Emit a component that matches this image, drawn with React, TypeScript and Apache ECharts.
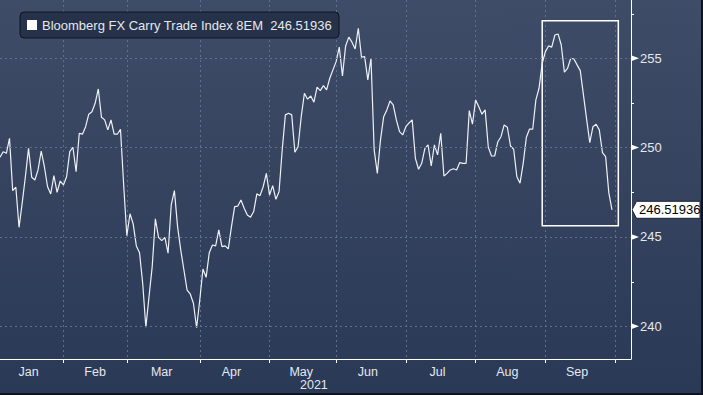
import React, { useEffect, useRef } from 'react';
import * as echarts from 'echarts';

const seriesName = 'Bloomberg FX Carry Trade Index 8EM';
const lastValue = 246.51936;

// Daily closes, trading days from 2021-01-04 to 2021-09-30
const values = [
  249.46, 249.77, 249.68, 250.52, 247.59, 247.78, 245.54, 246.89, 248.37, 249.96,
  248.34, 248.19, 248.75, 249.81, 248.93, 247.81, 247.41, 248.43, 247.50, 248.13,
  247.91, 248.37, 249.77, 250.02, 248.65, 250.80, 250.75, 251.17, 251.87, 252.01,
  252.48, 253.28, 251.70, 251.55, 250.99, 251.55, 250.75, 250.75, 251.03, 247.91,
  245.07, 246.30, 245.73, 244.50, 244.12, 242.41, 239.95, 241.66, 243.34, 246.01,
  244.98, 244.79, 244.98, 244.09, 246.79, 247.59, 245.58, 244.27, 243.15, 242.03,
  241.81, 241.29, 239.92, 241.47, 243.21, 242.74, 244.12, 244.55, 244.50, 245.39,
  244.46, 244.50, 244.33, 245.58, 246.70, 246.73, 247.07, 246.61, 246.23, 246.10,
  246.42, 247.41, 247.31, 247.81, 248.56, 247.35, 247.87, 247.11, 247.53, 249.87,
  251.83, 251.92, 251.83, 249.74, 250.05, 251.73, 253.04, 252.71, 252.89, 252.54,
  253.38, 253.19, 253.47, 253.23, 253.88, 254.35, 254.81, 255.62, 254.01, 255.69,
  256.18, 255.90, 255.52, 256.68, 255.06, 255.09, 253.79, 255.00, 249.87, 248.56,
  250.43, 251.73, 252.11, 252.61, 252.39, 251.55, 250.89, 250.71, 251.17, 251.38,
  251.55, 249.40, 248.79, 249.12, 249.96, 250.15, 248.97, 250.15, 249.59, 250.80,
  248.41, 248.56, 248.75, 248.82, 248.75, 249.16, 249.12, 249.12, 252.07, 251.31,
  252.67, 252.29, 251.87, 252.11, 250.02, 249.53, 249.53, 250.33, 250.61, 251.27,
  251.14, 250.09, 249.91, 248.37, 248.01, 249.12, 250.58, 251.04, 251.03, 252.67,
  253.32, 254.72, 255.37, 255.69, 255.62, 256.30, 256.36, 255.74, 254.22, 254.44,
  255.00, 254.96, 254.63, 254.31, 252.95, 251.59, 250.28, 251.17, 251.31, 250.99,
  249.72, 249.49, 247.48, 246.51936,
];

const axisStart = '2021-01-04';
const axisEnd = '2021-10-08';
const monthStarts = [
  '2021-02-01', '2021-03-01', '2021-04-01', '2021-05-03', '2021-06-01',
  '2021-07-01', '2021-08-02', '2021-09-01', '2021-10-01',
];
const monthLabelDates = [
  '2021-01-15', '2021-02-15', '2021-03-16', '2021-04-15', '2021-05-17',
  '2021-06-15', '2021-07-15', '2021-08-16', '2021-09-15',
];
const monthLabelTexts = ['Jan', 'Feb', 'Mar', 'Apr', 'May', 'Jun', 'Jul', 'Aug', 'Sep'];
const yearLabel = '2021';
const yearLabelDate = '2021-05-21';

const yMin = 238.17;
const yMax = 258.26;
const yTicks = [240, 245, 250, 255];
const yMinorTicks = [242.5, 247.5, 252.5, 257.5];

const boxFrom = '2021-08-31';
const boxTo = '2021-10-04';
const boxTop = 257.1;
const boxBottom = 245.62;

function buildCategories(): string[] {
  const out: string[] = [];
  const start = Date.parse(axisStart + 'T00:00:00Z');
  const end = Date.parse(axisEnd + 'T00:00:00Z');
  for (let t = start; t <= end; t += 86400000) {
    const d = new Date(t);
    const wd = d.getUTCDay();
    if (wd === 0 || wd === 6) continue;
    out.push(d.toISOString().slice(0, 10));
  }
  return out;
}

const AXIS_FONT = "'Liberation Sans', Arial, sans-serif";
const NARROW_FONT = "'Liberation Sans Narrow', 'Liberation Sans', Arial, sans-serif";
const GRID_COLOR = '#5d7090';
const TEXT_COLOR = '#e4e8ef';

export default function App() {
  const ref = useRef<HTMLDivElement>(null);

  useEffect(() => {
    if (!ref.current) return;
    const chart = echarts.init(ref.current, null, { renderer: 'svg' });
    const categories = buildCategories();
    const labelMap: Record<string, string> = {};
    monthLabelDates.forEach((d, i) => (labelMap[d] = monthLabelTexts[i]));

    chart.setOption({
      animation: false,
      grid: { left: 0, right: 70, top: 0, bottom: 34, containLabel: false },
      legend: {
        show: true,
        left: 20,
        top: 12,
        padding: [6, 7, 6, 7],
        itemWidth: 10,
        itemHeight: 10,
        backgroundColor: '#26324a',
        borderColor: '#0e1420',
        borderWidth: 1,
        borderRadius: 4,
        data: [{ name: seriesName, icon: 'rect', itemStyle: { color: '#ffffff' } }],
        formatter: (name: string) => `${name}  ${lastValue}`,
        textStyle: { color: TEXT_COLOR, fontSize: 13, fontFamily: NARROW_FONT, lineHeight: 14 },
      },
      xAxis: {
        type: 'category',
        data: categories,
        boundaryGap: false,
        axisLine: { show: true, lineStyle: { color: '#ffffff', width: 1 } },
        axisTick: {
          show: true,
          length: 4,
          interval: (_i: number, v: string) => monthStarts.includes(v),
          lineStyle: { color: '#ffffff' },
        },
        axisLabel: {
          interval: (_i: number, v: string) => labelMap[v] !== undefined,
          formatter: (v: string) => labelMap[v] || '',
          color: TEXT_COLOR,
          fontSize: 12.5,
          fontFamily: AXIS_FONT,
          margin: 6,
        },
        splitLine: {
          show: true,
          interval: (_i: number, v: string) => monthStarts.includes(v),
          lineStyle: { color: GRID_COLOR, type: [2, 3], width: 1 },
        },
      },
      yAxis: {
        type: 'value',
        position: 'right',
        min: yMin,
        max: yMax,
        axisLine: { show: true, lineStyle: { color: '#ffffff', width: 1 } },
        axisTick: { show: false },
        splitLine: { show: false },
        axisLabel: {
          margin: 9,
          color: TEXT_COLOR,
          fontSize: 13,
          fontFamily: AXIS_FONT,
          formatter: (v: number) => (yTicks.some((t) => Math.abs(t - v) < 1e-6) ? String(Math.round(v)) : ''),
        },
      },
      series: [
        {
          type: 'line',
          name: seriesName,
          data: values,
          symbol: 'none',
          showSymbol: false,
          lineStyle: { color: '#eef1f6', width: 1.2 },
          itemStyle: { color: '#ffffff' },
          markLine: {
            silent: true,
            symbol: 'none',
            label: { show: false },
            lineStyle: { color: GRID_COLOR, type: [2, 3], width: 1 },
            data: yTicks.map((v) => ({ yAxis: v })),
          },
          markArea: {
            silent: true,
            itemStyle: { color: 'rgba(0,0,0,0)', borderColor: '#ffffff', borderWidth: 1.5 },
            data: [[{ xAxis: boxFrom, yAxis: boxTop }, { xAxis: boxTo, yAxis: boxBottom }]],
          },
        },
      ],
    });

    const ax = chart.convertToPixel({ xAxisIndex: 0 }, categories[categories.length - 1]) as number;
    const yBottom = chart.convertToPixel({ yAxisIndex: 0 }, yMin) as number;
    const py = (v: number) => chart.convertToPixel({ yAxisIndex: 0 }, v) as number;
    const graphics: any[] = [];
    yTicks.forEach((t) => {
      const y = py(t);
      graphics.push({
        type: 'polygon',
        shape: { points: [[ax, y - 3], [ax, y + 3], [ax + 8, y]] },
        style: { fill: '#ffffff' },
        silent: true,
      });
    });
    yMinorTicks.forEach((t) => {
      const y = Math.round(py(t)) + 0.5;
      graphics.push({
        type: 'line',
        shape: { x1: ax, y1: y, x2: ax + 3, y2: y },
        style: { stroke: '#ffffff', lineWidth: 1 },
        silent: true,
      });
    });
    const yl = py(lastValue);
    graphics.push({
      type: 'polygon',
      shape: {
        points: [
          [ax + 1, yl],
          [ax + 5.5, yl - 8.5],
          [ax + 69, yl - 8.5],
          [ax + 69, yl + 8.5],
          [ax + 5.5, yl + 8.5],
        ],
      },
      style: { fill: '#ffffff', stroke: '#1c2333', lineWidth: 1 },
      silent: true,
    });
    graphics.push({
      type: 'text',
      x: ax + 8,
      y: yl,
      style: {
        text: String(lastValue),
        fill: '#000000',
        fontSize: 13,
        fontFamily: AXIS_FONT,
        verticalAlign: 'middle',
        align: 'left',
      },
      silent: true,
    });
    const xYear = chart.convertToPixel({ xAxisIndex: 0 }, yearLabelDate) as number;
    graphics.push({
      type: 'text',
      x: xYear,
      y: yBottom + 26,
      style: {
        text: yearLabel,
        fill: TEXT_COLOR,
        fontSize: 12.5,
        fontFamily: AXIS_FONT,
        align: 'center',
        verticalAlign: 'middle',
      },
      silent: true,
    });
    chart.setOption({ graphic: graphics });

    return () => chart.dispose();
  }, []);

  return (
    <div
      style={{
        position: 'fixed',
        left: 0,
        top: 0,
        width: 703,
        height: 395,
        boxSizing: 'border-box',
        background: 'linear-gradient(to bottom, #3f4c67 0%, #2a3956 100%)',
        borderRight: '2px solid #0d1320',
        borderBottom: '2px solid #0d1320',
      }}
    >
      <div ref={ref} style={{ width: 701, height: 393 }} />
    </div>
  );
}
